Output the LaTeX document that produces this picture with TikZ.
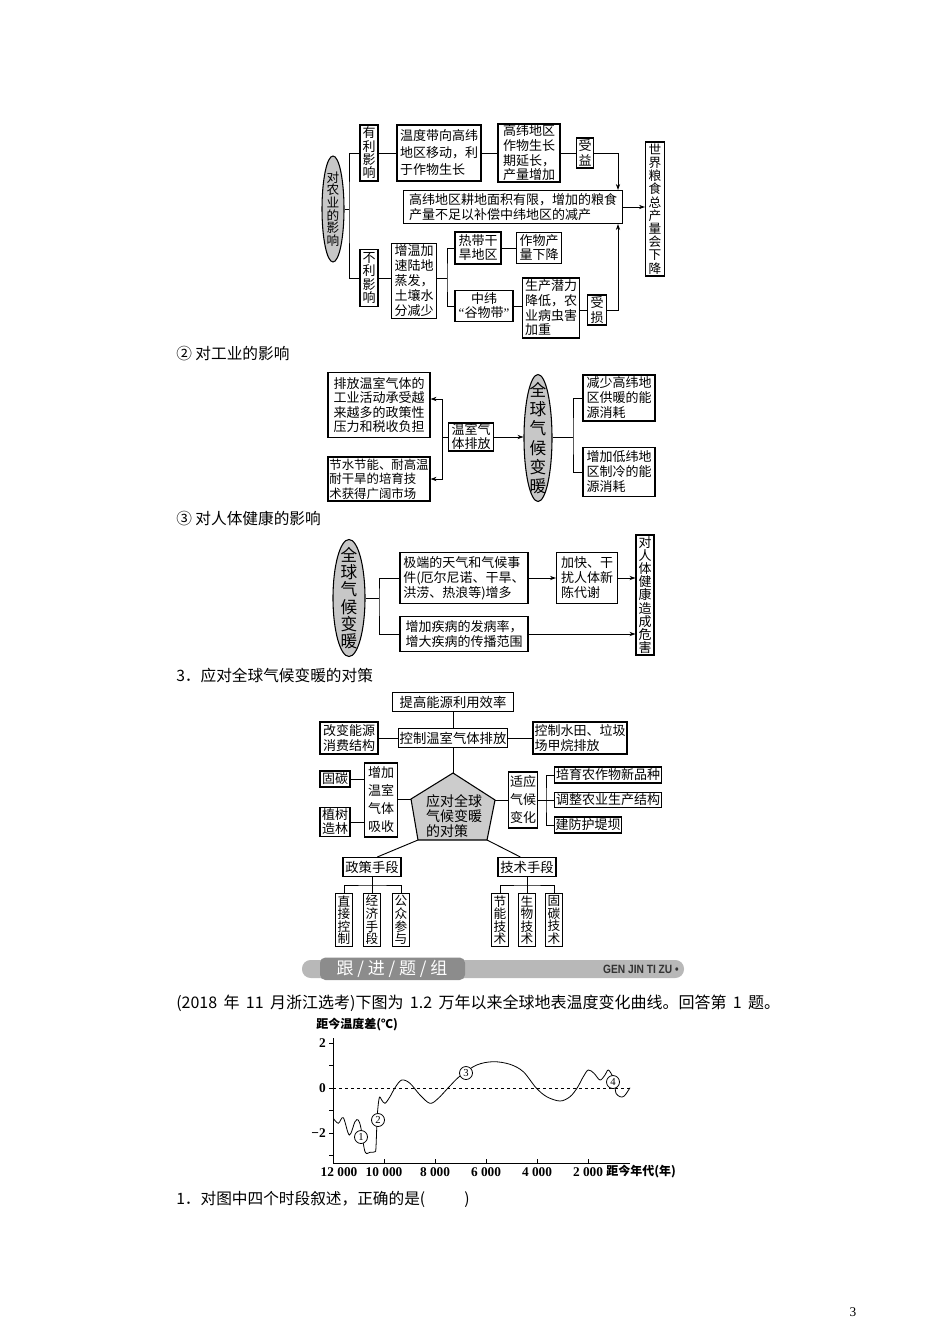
\documentclass[tikz,border=0pt]{standalone}
\usepackage{fontspec}
\setmainfont{Noto Sans CJK SC}
\newfontfamily\serifnum{Liberation Serif}
\newfontfamily\bsans[FakeStretch=0.85]{Liberation Sans}
\usetikzlibrary{arrows.meta,shapes.geometric}
\newcommand\fs[2]{\fontsize{#1}{#2}\selectfont}
\newcommand\gapq{\hspace{0.4em}}
\lineskiplimit=-20pt
\definecolor{ellgray}{gray}{0.78}
\definecolor{pgray}{gray}{0.8}
\definecolor{bargray}{gray}{0.72}
\definecolor{tabgray}{gray}{0.55}
\definecolor{txtgray}{gray}{0.2}
\begin{document}
\begin{tikzpicture}[x=0.75pt,y=-0.75pt,
  ln/.style={line width=0.7pt},
  arr/.style={line width=0.7pt,-{Stealth[length=4.5pt,width=3.2pt]}},
  bx/.style={draw,line width=0.8pt,inner sep=0pt,align=left,font=\fs{9.75}{11.25}},
  vb/.style={draw,line width=0.8pt,inner sep=0pt,align=center,font=\fs{9.75}{10}},
  sz/.style 2 args={minimum width={#1*0.75pt},minimum height={#2*0.75pt}},
  ell/.style={ellipse,draw,line width=0.8pt,fill=ellgray,inner sep=0pt},
  etxt/.style={inner sep=0pt,align=center},
  body/.style={anchor=west,inner sep=0pt,font=\fs{11.75}{13}},
  tick/.style={inner sep=0pt,font=\serifnum\bfseries\fs{10}{11}},
  mk/.style={circle,draw,line width=0.6pt,fill=white,inner sep=0pt,minimum size={13*0.75pt},font=\serifnum\fs{8}{8}}
]
\useasboundingbox (0,0) rectangle (950,1344);

% ================= top diagram =================
\node[ell,sz={22}{106}] (ag) at (333,209) {};
\node[etxt,font=\fs{9.5}{9.5}] (agt) at (ag.center) {对\\农\\业\\的\\影\\响};
\node[vb,sz={18}{56}] (ymxy) at (369,153) {有\\利\\影\\响};
\node[vb,sz={18}{57}] (blyx) at (369,278) {不\\利\\影\\响};
\node[bx,sz={84}{56},font=\fs{9.75}{12.75}] (wdd) at (439,153) {温度带向高纬\\地区移动，利\\于作物生长};
\node[bx,sz={62}{58},font=\fs{9.75}{11}] (gwdq) at (529,153) {高纬地区\\作物生长\\期延长，\\产量增加};
\node[vb,sz={17}{30},font=\fs{9.75}{11}] (syi) at (585,153) {受\\益};
\node[bx,sz={219}{33},font=\fs{9.75}{11}] (big) at (513,207) {高纬地区耕地面积有限，增加的粮食\\产量不足以补偿中纬地区的减产};
\node[vb,sz={19}{134},font=\fs{9.5}{9.9}] (wlmx) at (655,209) {世\\界\\粮\\食\\总\\产\\量\\会\\下\\降};
\node[bx,sz={45}{75},font=\fs{9.75}{11.25}] (zwjs) at (414,281) {增温加\\速陆地\\蒸发，\\土壤水\\分减少};
\node[bx,sz={46}{32},font=\fs{9.75}{10.5}] (rdgh) at (478,248) {热带干\\旱地区};
\node[bx,sz={58}{31},align=center,font=\fs{9.75}{10.5}] (zwgwd) at (484,306) {中纬\\{\serifnum “}谷物带{\serifnum ”}};
\node[bx,sz={45}{31},font=\fs{9.75}{10.5}] (zwcl) at (539,248) {作物产\\量下降};
\node[bx,sz={57}{60},font=\fs{9.75}{11}] (scql) at (551,308) {生产潜力\\降低，农\\业病虫害\\加重};
\node[vb,sz={19}{30},font=\fs{9.75}{11}] (ss) at (597,310) {受\\损};

\coordinate (b1) at (349,209);
\draw[ln] (ag.east) -- (b1);
\draw[ln] (ymxy.west) -| (b1) |- (blyx.west);
\draw[ln] (ymxy) -- (wdd);
\draw[ln] (wdd) -- (gwdq);
\draw[ln] (gwdq) -- (syi);
\coordinate (c1) at (618,0);
\draw[arr] (syi.east) -| (c1 |- big.north);
\draw[arr] (ss.east) -| (c1 |- big.south);
\draw[arr] (big.east) -- (big.east -| wlmx.west);
\draw[ln] (blyx.east) -- (blyx.east -| zwjs.west);
\coordinate (b2) at (447,278);
\draw[ln] (zwjs.east |- b2) -- (b2);
\draw[ln] (rdgh.west) -| (b2) |- (zwgwd.west);
\draw[ln] (rdgh) -- (zwcl);
\draw[ln] (zwgwd.east) -- (zwgwd.east -| scql.west);
\draw[ln] (scql.east |- ss) -- (ss.west);

% ================= section 2 =================
\node[body] (t2) at (176,354) {② 对工业的影响};
\node[bx,sz={102}{65},font=\fs{9.75}{10.75}] (gy1) at (379,405) {排放温室气体的\\工业活动承受越\\来越多的政策性\\压力和税收负担};
\node[bx,sz={102}{44},font=\fs{9.3}{10.75}] (gy2) at (379,479) {节水节能、耐高温\\耐干旱的培育技\\术获得广阔市场};
\node[bx,sz={45}{28},font=\fs{9.75}{10.5}] (wsqt) at (471,437) {温室气\\体排放};
\node[ell,sz={28}{127}] (qq1) at (538,438) {};
\node[etxt,font=\fs{12.5}{14.5}] (qq1t) at (qq1.center) {全\\球\\气\\候\\变\\暖};
\node[bx,sz={72}{46},font=\fs{9.75}{11.25}] (gy3) at (619,398) {减少高纬地\\区供暖的能\\源消耗};
\node[bx,sz={72}{49},font=\fs{9.75}{11.25}] (gy4) at (619,472) {增加低纬地\\区制冷的能\\源消耗};

\coordinate (b3) at (442,437);
\draw[ln] (wsqt.west) -- (b3);
\draw[arr] (b3) |- ([yshift=4.5pt]gy1.east);
\draw[arr] (b3) |- (gy2.east);
\draw[arr] (wsqt.east) -- (wsqt.east -| qq1.west);
\coordinate (b4) at (573,437);
\draw[ln] (qq1.east |- b4) -- (b4);
\draw[ln] (gy3.west) -| (b4) |- (gy4.west);

% ================= section 3 =================
\node[body] (t3) at (176,519) {③ 对人体健康的影响};
\node[ell,sz={32}{117}] (qq2) at (349,598) {};
\node[etxt,font=\fs{12.5}{13}] (qq2t) at (qq2.center) {全\\球\\气\\候\\变\\暖};
\node[bx,sz={128}{51}] (jd) at (464,578) {极端的天气和气候事\\件(厄尔尼诺、干旱、\\洪涝、热浪等)增多};
\node[bx,sz={128}{35}] (zj) at (464,634) {增加疾病的发病率，\\增大疾病的传播范围};
\node[bx,sz={61}{51}] (jk) at (587,578) {加快、干\\扰人体新\\陈代谢};
\node[vb,sz={18}{120},font=\fs{9.75}{9.9}] (drt) at (645,595) {对\\人\\体\\健\\康\\造\\成\\危\\害};

\coordinate (b5) at (379,598);
\draw[ln] (qq2.east) -- (b5);
\draw[ln] (jd.west) -| (b5) |- (zj.west);
\draw[arr] (jd) -- (jk);
\draw[arr] (jk.east) -- (jk.east -| drt.west);
\draw[arr] (zj.east) -- (zj.east -| drt.west);

% ================= countermeasures =================
\node[body] (t4) at (176,676) {3．应对全球气候变暖的对策};
\node[bx,sz={121}{19},align=center,font=\fs{10}{11}] (tg) at (453,702) {提高能源利用效率};
\node[bx,sz={109}{19},align=center,font=\fs{10}{11}] (kz) at (453,738) {控制温室气体排放};
\node[bx,sz={58}{32}] (gb) at (349,738) {改变能源\\消费结构};
\node[bx,sz={94}{32}] (ks) at (580,738) {控制水田、垃圾\\场甲烷排放};
\coordinate (pT) at (453,773);
\coordinate (pL) at (411,799);
\coordinate (pR) at (495,800);
\coordinate (pBL) at (418,840);
\coordinate (pBR) at (487,840);
\draw[line width=0.8pt,fill=pgray] (pT) -- (pL) -- (pBL) -- (pBR) -- (pR) -- cycle;
\node[etxt,align=left,font=\fs{10.5}{11}] (dc) at (454,816) {应对全球\\气候变暖\\的对策};
\node[bx,sz={33}{74},align=center,font=\fs{9.75}{13.5}] (zj2) at (381,800) {增加\\温室\\气体\\吸收};
\node[bx,sz={30}{16},align=center] (gt) at (335,779) {固碳};
\node[bx,sz={30}{29},align=center,font=\fs{9.75}{10.5}] (zs) at (335,822) {植树\\造林};
\node[bx,sz={29}{56},align=center,font=\fs{9.75}{13.5}] (sy) at (523,800) {适应\\气候\\变化};
\node[bx,sz={107}{16},align=center] (py) at (608,775) {培育农作物新品种};
\node[bx,sz={107}{15},align=center] (tz) at (608,800) {调整农业生产结构};
\node[bx,sz={67}{16},align=center] (jf) at (588,825) {建防护堤坝};

\draw[ln] (tg) -- (kz);
\draw[ln] (gb) -- (kz);
\draw[ln] (kz) -- (ks);
\draw[ln] (kz.south) -- (pT);
\draw[ln] (zj2.east |- pL) -- (pL);
\draw[ln] (gt.east) -- (gt.east -| zj2.west);
\draw[ln] (zs.east) -- (zs.east -| zj2.west);
\draw[ln] (pR) -- (sy.west |- pR);
\coordinate (b6) at (546,800);
\draw[ln] (sy.east |- b6) -- (b6);
\draw[ln] (py.west) -| (b6) |- (jf.west);
\draw[ln] (b6) -- (tz.west);

\node[bx,sz={58}{19},align=center,font=\fs{10}{11}] (zc) at (372,867) {政策手段};
\node[bx,sz={58}{19},align=center,font=\fs{10}{11}] (js) at (527,867) {技术手段};
\draw[ln] (pBL) -- ([xshift=4pt]zc.north);
\draw[ln] (pBR) -- ([xshift=-5pt]js.north);
\node[vb,sz={17}{53},font=\fs{9.5}{9.4}] (zjkz) at (344,920) {直\\接\\控\\制};
\node[vb,sz={17}{53},font=\fs{9.5}{9.4}] (jjsd) at (372,920) {经\\济\\手\\段};
\node[vb,sz={17}{53},font=\fs{9.5}{9.4}] (gzcy) at (401,920) {公\\众\\参\\与};
\node[vb,sz={17}{53},font=\fs{9.5}{9.4}] (jnjs) at (500,920) {节\\能\\技\\术};
\node[vb,sz={17}{53},font=\fs{9.5}{9.4}] (swjs) at (527,920) {生\\物\\技\\术};
\node[vb,sz={17}{53},font=\fs{9.5}{9.4}] (gtjs) at (554,920) {固\\碳\\技\\术};
\coordinate (b7) at (372,885);
\coordinate (b8) at (527,885);
\draw[ln] (zc.south) -- (jjsd.north);
\draw[ln] (zjkz.north) |- (b7) -| (gzcy.north);
\draw[ln] (js.south) -- (swjs.north);
\draw[ln] (jnjs.north) |- (b8) -| (gtjs.north);

% ================= banner =================
\fill[bargray,rounded corners=6.5pt] (302,960) rectangle (684,978);
\fill[tabgray,rounded corners=4pt] (320,957.5) rectangle (465,980);
\node[inner sep=0pt,text=white,font=\fs{12.75}{13}] (bt) at (392,969) {跟 / 进 / 题 / 组};
\node[inner sep=0pt,anchor=east,text=txtgray,font=\bsans\bfseries\fs{9}{10}] (bn) at (679,969) {GEN JIN TI ZU •};

\node[body,font=\fs{12}{13}] (q) at (176,1003) {(2018\gapq 年\gapq 11\gapq 月浙江选考)下图为\gapq 1.2\gapq 万年以来全球地表温度变化曲线。回答第\gapq 1\gapq 题。};

% ================= graph =================
\node[inner sep=0pt,anchor=west,font=\bfseries\fs{9}{10}] (yl) at (316,1025) {距今温度差(℃)};
\draw[ln] (333,1038) -- (333,1163) -- (630,1163);
\foreach \v in {2,1,0,-1,-2,-3} \draw[ln] (329,{1088-22.5*\v}) -- (333,{1088-22.5*\v});
\foreach \t in {1,...,5} \draw[ln] ({333+51*\t},1163) -- ({333+51*\t},1159);
\node[tick,anchor=east] (y2) at (326,1043) {2};
\node[tick,anchor=east] (y0) at (326,1088) {0};
\node[tick,anchor=east] (ym2) at (326,1133) {−2};
\node[tick] (x12) at (339,1172) {12 000};
\node[tick] (x10) at (384,1172) {10 000};
\node[tick] (x8) at (435,1172) {8 000};
\node[tick] (x6) at (486,1172) {6 000};
\node[tick] (x4) at (537,1172) {4 000};
\node[tick] (x2) at (588,1172) {2 000};
\node[inner sep=0pt,anchor=west,font=\bfseries\fs{9}{10}] (xl) at (606,1172) {距今年代(年)};
\draw[ln,dash pattern=on 2.5pt off 2pt] (333,1088) -- (630,1088);
\draw[line width=0.6pt] plot[smooth,tension=0.55] coordinates {
(333.3,1118.3) (338.3,1123.3) (343.3,1117.7) (349.3,1135) (355,1121.7) (358.3,1120)
(361,1128.3) (365,1151.7) (370,1152.3) (375,1151.7) (376,1146.7) (377.3,1115)
(379.3,1097.7) (381.7,1100) (385,1103.3) (390,1096.7) (395,1087.7) (401.7,1080)
(410,1083.3) (420,1095) (430,1103.3) (438.3,1098.3) (448.3,1087.7) (460,1076)
(476.7,1065) (493.3,1061.7) (510,1064.3) (523.3,1071.7) (536,1087.7) (546.7,1096.7)
(560,1101) (570,1096.7) (577.3,1087.7) (583.3,1076.7) (588.3,1070) (594,1073.3)
(600,1080) (605,1075) (608.3,1070) (612.7,1076.7) (615,1086.7) (616,1093.3)
(620,1096.7) (624.3,1096) (630,1087.7)};
\node[mk] (m1) at (361,1137) {1};
\node[mk] (m2) at (378,1120) {2};
\node[mk] (m3) at (466,1073) {3};
\node[mk] (m4) at (613,1082) {4};

\node[body] (q1) at (176,1199) {1．对图中四个时段叙述，正确的是(\hspace{2.5em})};
\node[inner sep=0pt,font=\serifnum\fs{10}{11}] (pg) at (853,1312) {3};
\end{tikzpicture}
\end{document}
